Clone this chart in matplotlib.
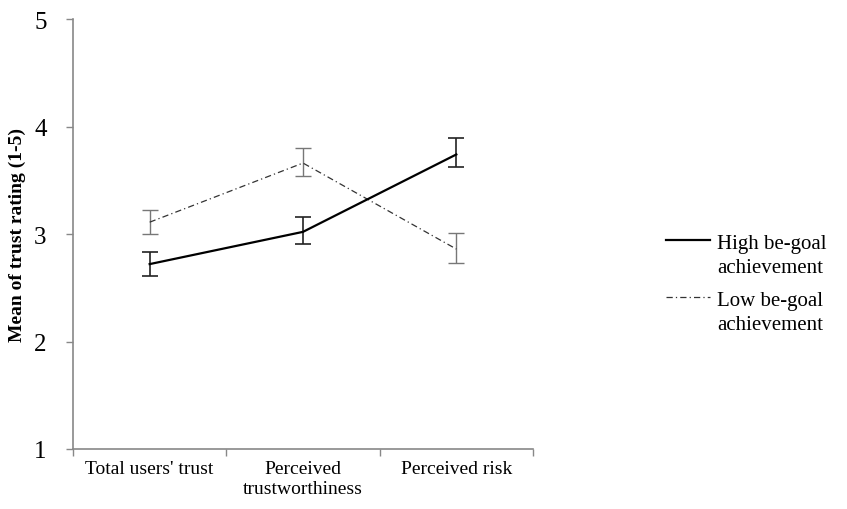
import numpy as np
import matplotlib
matplotlib.use('Agg')
import matplotlib.pyplot as plt
from matplotlib.lines import Line2D

categories = ["Total users' trust", "Perceived\ntrustworthiness", "Perceived risk"]
high_mean = [2.72, 3.02, 3.74]
high_lo = [2.61, 2.91, 3.62]
high_hi = [2.83, 3.16, 3.89]
low_mean = [3.11, 3.66, 2.86]
low_lo = [3.00, 3.54, 2.73]
low_hi = [3.22, 3.80, 3.01]
series_labels = [('High be-goal', 'achievement'), ('Low be-goal', 'achievement')]

plt.rcParams['font.family'] = ['Liberation Serif', 'DejaVu Serif']

fig = plt.figure(figsize=(8.47, 5.10), dpi=100)
ax = fig.add_axes([73 / 847, 1 - 450 / 510, 460 / 847, 430 / 510])

x = np.arange(len(categories))
high_mean = np.array(high_mean)
low_mean = np.array(low_mean)
high_err = [high_mean - np.array(high_lo), np.array(high_hi) - high_mean]
low_err = [low_mean - np.array(low_lo), np.array(low_hi) - low_mean]

high_style = dict(color='black', lw=1.6)
low_style = dict(color='#333333', lw=0.9, linestyle=(0, (5, 2.5, 1, 2.5)))

ax.errorbar(x, high_mean, yerr=high_err, ecolor='#222222', elinewidth=1.2,
            capsize=6, capthick=1.2, zorder=3, **high_style)
ax.errorbar(x, low_mean, yerr=low_err, ecolor='#777777', elinewidth=1.0,
            capsize=6, capthick=1.0, zorder=2, **low_style)

ax.set_xlim(-0.5, 2.5)
ax.set_ylim(1, 5)
ax.set_yticks([1, 2, 3, 4, 5])
ax.set_xticks(x)
ax.set_xticklabels(categories, fontsize=14)
ax.set_xticks([-0.5, 0.5, 1.5, 2.5], minor=True)
ax.tick_params(axis='x', which='major', length=0, pad=8)
ax.tick_params(axis='x', which='minor', length=5, color='#888888', width=1)
ax.tick_params(axis='y', length=5, color='#888888', width=1, labelsize=18, pad=14)

for side in ['top', 'right']:
    ax.spines[side].set_visible(False)
for side in ['left', 'bottom']:
    ax.spines[side].set_color('#888888')
    ax.spines[side].set_linewidth(1.2)

ax.set_ylabel('Mean of trust rating (1-5)', fontsize=14, fontweight='bold', labelpad=6)

# legend: handle sits beside the first line of each wrapped label
blank = Line2D([], [], color='none')
for (first, second), style, ypos in zip(series_labels, [high_style, low_style], [256, 313]):
    leg = fig.legend([Line2D([], [], **style), blank], [first, second],
                     loc='center left', bbox_to_anchor=(656 / 847, 1 - ypos / 510),
                     frameon=False, fontsize=15, handlelength=2.1, labelspacing=0.22,
                     handletextpad=0.35, borderpad=0)

fig.savefig('out.png', dpi=100)
